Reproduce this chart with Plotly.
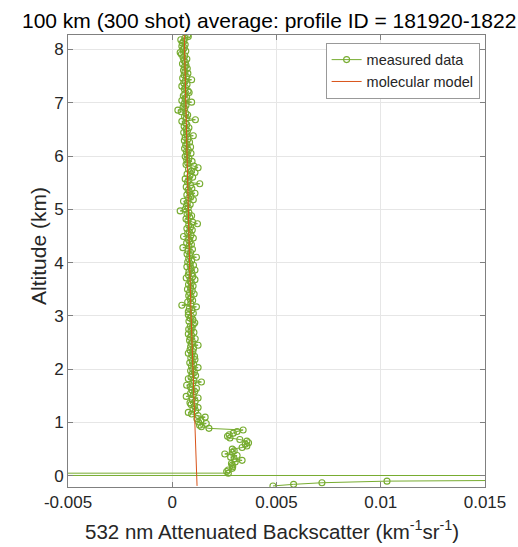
import plotly.graph_objects as go

# ---------------- data ----------------
altitude_km = [
    8.27, 8.24, 8.21, 8.18, 8.15, 8.12, 8.09, 8.06, 8.03, 8.00,
    7.97, 7.94, 7.91, 7.88, 7.85, 7.82, 7.79, 7.76, 7.73, 7.70,
    7.67, 7.64, 7.61, 7.58, 7.55, 7.52, 7.49, 7.46, 7.43, 7.40,
    7.37, 7.34, 7.31, 7.28, 7.25, 7.22, 7.19, 7.16, 7.13, 7.10,
    7.07, 7.04, 7.01, 6.98, 6.95, 6.92, 6.89, 6.86, 6.83, 6.80,
    6.77, 6.74, 6.71, 6.68, 6.65, 6.62, 6.59, 6.56, 6.53, 6.50,
    6.47, 6.44, 6.41, 6.38, 6.35, 6.32, 6.29, 6.26, 6.23, 6.20,
    6.17, 6.14, 6.11, 6.08, 6.05, 6.02, 5.99, 5.96, 5.93, 5.90,
    5.87, 5.84, 5.81, 5.78, 5.75, 5.72, 5.69, 5.66, 5.63, 5.60,
    5.57, 5.54, 5.51, 5.48, 5.45, 5.42, 5.39, 5.36, 5.33, 5.30,
    5.27, 5.24, 5.21, 5.18, 5.15, 5.12, 5.09, 5.06, 5.03, 5.00,
    4.97, 4.94, 4.91, 4.88, 4.85, 4.82, 4.79, 4.76, 4.73, 4.70,
    4.67, 4.64, 4.61, 4.58, 4.55, 4.52, 4.49, 4.46, 4.43, 4.40,
    4.37, 4.34, 4.31, 4.28, 4.25, 4.22, 4.19, 4.16, 4.13, 4.10,
    4.07, 4.04, 4.01, 3.98, 3.95, 3.92, 3.89, 3.86, 3.83, 3.80,
    3.77, 3.74, 3.71, 3.68, 3.65, 3.62, 3.59, 3.56, 3.53, 3.50,
    3.47, 3.44, 3.41, 3.38, 3.35, 3.32, 3.29, 3.26, 3.23, 3.20,
    3.17, 3.14, 3.11, 3.08, 3.05, 3.02, 2.99, 2.96, 2.93, 2.90,
    2.87, 2.84, 2.81, 2.78, 2.75, 2.72, 2.69, 2.66, 2.63, 2.60,
    2.57, 2.54, 2.51, 2.48, 2.45, 2.42, 2.39, 2.36, 2.33, 2.30,
    2.27, 2.24, 2.21, 2.18, 2.15, 2.12, 2.09, 2.06, 2.03, 2.00,
    1.97, 1.94, 1.91, 1.88, 1.85, 1.82, 1.79, 1.76, 1.73, 1.70,
    1.67, 1.64, 1.61, 1.58, 1.55, 1.52, 1.49, 1.46, 1.43, 1.40,
    1.37, 1.34, 1.31, 1.28, 1.25, 1.22, 1.19, 1.16, 1.13, 1.10,
    1.07, 1.04, 1.01, 0.98, 0.95, 0.92, 0.89, 0.86, 0.83, 0.80,
    0.77, 0.74, 0.71, 0.68, 0.65, 0.62, 0.59, 0.56, 0.53, 0.50,
    0.47, 0.44, 0.41, 0.38, 0.35, 0.32, 0.29, 0.26, 0.23, 0.20,
    0.17, 0.14, 0.11, 0.08, 0.05, 0.02, -0.01, -0.04, -0.07, -0.10,
    -0.13, -0.16, -0.19,
]

measured_backscatter = [
    0.00074, 0.00077, 0.00060, 0.00041, 0.00055, 0.00048, 0.00062, 0.00046, 0.00058, 0.00052,
    0.00065, 0.00038, 0.00044, 0.00060, 0.00052, 0.00070, 0.00056, 0.00063, 0.00049, 0.00066,
    0.00058, 0.00072, 0.00054, 0.00061, 0.00075, 0.00057, 0.00068, 0.00050, 0.00093, 0.00062,
    0.00055, 0.00071, 0.00046, 0.00064, 0.00058, 0.00076, 0.00081, 0.00060, 0.00053, 0.00069,
    0.00062, 0.00046, 0.00093, 0.00057, 0.00066, 0.00052, 0.00060, 0.00027, 0.00043, 0.00065,
    0.00074, 0.00059, 0.00068, 0.00111, 0.00046, 0.00063, 0.00070, 0.00057, 0.00080, 0.00066,
    0.00073, 0.00055, 0.00069, 0.00101, 0.00062, 0.00075, 0.00058, 0.00083, 0.00070, 0.00064,
    0.00088, 0.00059, 0.00077, 0.00068, 0.00090, 0.00071, 0.00062, 0.00080, 0.00069, 0.00095,
    0.00074, 0.00066, 0.00104, 0.00124, 0.00078, 0.00092, 0.00109, 0.00071, 0.00085, 0.00098,
    0.00062, 0.00080, 0.00073, 0.00132, 0.00088, 0.00067, 0.00094, 0.00076, 0.00082, 0.00109,
    0.00070, 0.00090, 0.00079, 0.00101, 0.00054, 0.00072, 0.00086, 0.00068, 0.00077, 0.00062,
    0.00038, 0.00080, 0.00071, 0.00093, 0.00084, 0.00066, 0.00075, 0.00098, 0.00121, 0.00079,
    0.00088, 0.00070, 0.00096, 0.00082, 0.00074, 0.00090, 0.00054, 0.00101, 0.00078, 0.00085,
    0.00069, 0.00092, 0.00080, 0.00051, 0.00097, 0.00076, 0.00088, 0.00071, 0.00084, 0.00116,
    0.00079, 0.00093, 0.00074, 0.00086, 0.00102, 0.00070, 0.00090, 0.00109, 0.00080, 0.00095,
    0.00077, 0.00099, 0.00067, 0.00109, 0.00085, 0.00092, 0.00078, 0.00100, 0.00088, 0.00073,
    0.00096, 0.00083, 0.00105, 0.00079, 0.00091, 0.00086, 0.00098, 0.00074, 0.00089, 0.00046,
    0.00116, 0.00082, 0.00094, 0.00077, 0.00101, 0.00077, 0.00092, 0.00085, 0.00099, 0.00080,
    0.00108, 0.00101, 0.00087, 0.00095, 0.00079, 0.00090, 0.00104, 0.00077, 0.00093, 0.00086,
    0.00110, 0.00083, 0.00097, 0.00091, 0.00124, 0.00088, 0.00102, 0.00085, 0.00099, 0.00077,
    0.00094, 0.00107, 0.00089, 0.00109, 0.00096, 0.00084, 0.00103, 0.00092, 0.00124, 0.00098,
    0.00088, 0.00106, 0.00095, 0.00112, 0.00090, 0.00077, 0.00104, 0.00140, 0.00098, 0.00069,
    0.00086, 0.00116, 0.00094, 0.00108, 0.00088, 0.00101, 0.00067, 0.00124, 0.00096, 0.00110,
    0.00085, 0.00090, 0.00106, 0.00124, 0.00099, 0.00112, 0.00077, 0.00093, 0.00124, 0.00158,
    0.00118, 0.00137, 0.00126, 0.00163, 0.00131, 0.00140, 0.00176, 0.00340, 0.00311, 0.00293,
    0.00273, 0.00265, 0.00277, 0.00324, 0.00358, 0.00366, 0.00350, 0.00358, 0.00335, 0.00288,
    0.00297, 0.00288, 0.00252, 0.00311, 0.00280, 0.00297, 0.00335, 0.00302, 0.00284, 0.00288,
    0.00290, 0.00288, 0.00268, 0.00261, 0.00269, -0.30, 0.35, 0.12, 0.023, 0.0103,
    0.00718, 0.00582, 0.00483,
]

model_altitude_km = [8.27, 7.0, 6.0, 5.0, 4.0, 3.0, 2.0, 1.0, 0.0, -0.19]
model_backscatter = [0.000577, 0.000643, 0.000701, 0.000763, 0.000831,
                     0.000905, 0.000986, 0.001074, 0.00117, 0.00119]

x_tick_values = [-0.005, 0, 0.005, 0.01, 0.015]
x_tick_labels = ["-0.005", "0", "0.005", "0.01", "0.015"]
y_tick_values = [0, 1, 2, 3, 4, 5, 6, 7, 8]

title_text = "100 km (300 shot) average: profile ID = 181920-1822"
x_label = "532 nm Attenuated Backscatter (km<sup>-1</sup>sr<sup>-1</sup>)"
y_label = "Altitude (km)"

# ---------------- figure ----------------
GREEN = "#77AC30"
RED = "#D95319"
AXIS = "#808080"
FONT = "Liberation Sans, Arial, sans-serif"

fig = go.Figure()
fig.add_trace(go.Scatter(
    x=measured_backscatter, y=altitude_km, mode="lines+markers",
    name="measured data",
    line=dict(color=GREEN, width=1),
    marker=dict(symbol="circle-open", size=6, color=GREEN, line=dict(width=1.1)),
))
fig.add_trace(go.Scatter(
    x=model_backscatter, y=model_altitude_km, mode="lines",
    name="molecular model",
    line=dict(color=RED, width=1),
))

L, R, T, B = 67.5, 24.5, 35, 59.7
W, H = 518, 547
pw, ph = W - L - R, H - T - B

fig.update_layout(
    width=W, height=H,
    margin=dict(l=L, r=R, t=T, b=B, pad=0),
    paper_bgcolor="white", plot_bgcolor="white",
    font=dict(family=FONT, size=17, color="#262626"),
    showlegend=True,
    legend=dict(
        x=(488 - L) / pw, y=1 - (42.7 - T) / ph, xanchor="right", yanchor="top",
        bgcolor="white", bordercolor="#999999", borderwidth=1,
        font=dict(size=14.5, color="#262626"),
        itemwidth=30, tracegroupgap=0,
    ),
    xaxis=dict(
        range=[-0.005, 0.015], tickvals=x_tick_values, ticktext=x_tick_labels,
        showgrid=True, gridcolor="#e6e6e6", gridwidth=1, zeroline=False,
        showline=True, linecolor=AXIS, linewidth=1, mirror="ticks",
        ticks="inside", ticklen=5, tickcolor=AXIS,
        tickfont=dict(size=17, color="#262626"),
    ),
    yaxis=dict(
        range=[-0.21, 8.27], tickvals=y_tick_values,
        showgrid=True, gridcolor="#e6e6e6", gridwidth=1, zeroline=False,
        showline=True, linecolor=AXIS, linewidth=1, mirror="ticks",
        ticks="inside", ticklen=5, tickcolor=AXIS,
        tickfont=dict(size=17, color="#262626"),
    ),
    annotations=[
        dict(text=title_text, xref="paper", yref="paper",
             x=(18 - L) / pw, y=1 + (T - 20) / ph, xanchor="left", yanchor="middle",
             showarrow=False, font=dict(size=21, color="black", family=FONT)),
        dict(text=x_label, xref="paper", yref="paper",
             x=(276 - L) / pw, y=-(530 - (H - B)) / ph, xanchor="center", yanchor="middle",
             showarrow=False, font=dict(size=20.5, color="#262626", family=FONT)),
        dict(text=y_label, xref="paper", yref="paper", textangle=-90,
             x=(38 - L) / pw, y=1 - (246 - T) / ph, xanchor="center", yanchor="middle",
             showarrow=False, font=dict(size=21, color="#262626", family=FONT)),
    ],
)

fig.write_html("out.html")
